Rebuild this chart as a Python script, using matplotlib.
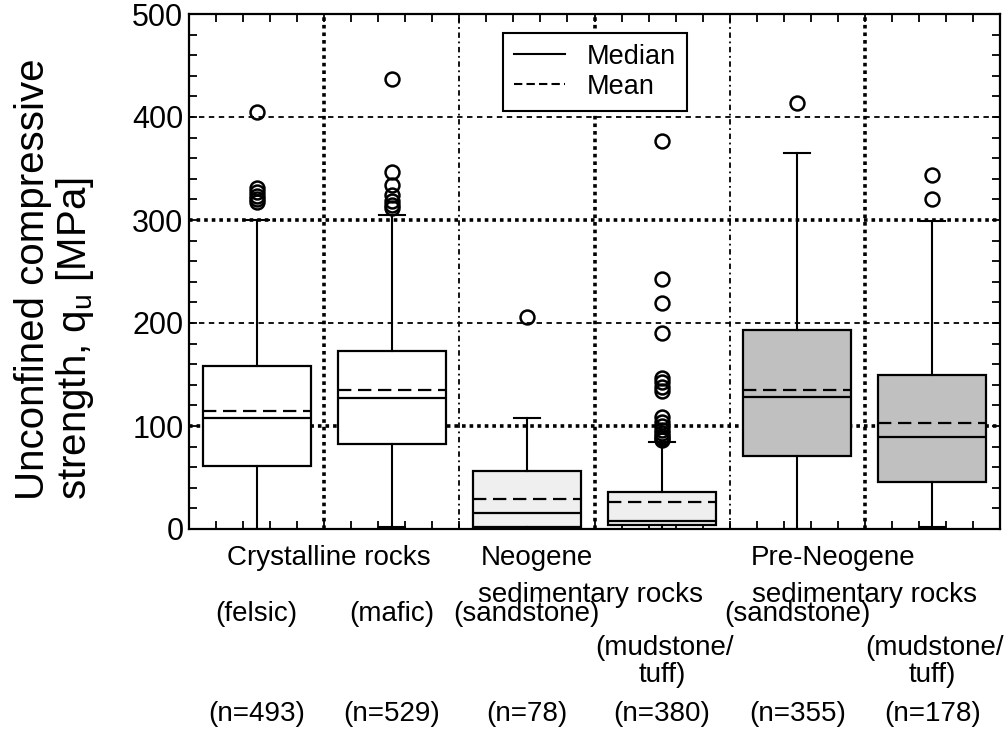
import matplotlib
matplotlib.use("Agg")
import matplotlib.pyplot as plt
from matplotlib.lines import Line2D
from matplotlib.ticker import MultipleLocator

plt.rcParams['font.family'] = ['Liberation Sans', 'DejaVu Sans']

# box statistics (MPa)
rock_types = ["felsic", "mafic", "Neo sandstone", "Neo mudstone/tuff",
              "Pre-Neo sandstone", "Pre-Neo mudstone/tuff"]
q1 = [61, 83, 2, 4, 71, 46]
q3 = [158, 173, 56, 36, 193, 150]
medians = [108, 127, 16, 8, 128, 89]
means = [115, 135, 29, 26, 135, 103]
whisk_lo = [0, 2, 0, 0, 0, 2]
whisk_hi = [300, 305, 108, 84, 365, 299]
outliers = [
    [317, 320, 323, 327, 331, 405],
    [312, 315, 318, 324, 334, 347, 437],
    [206],
    [86, 88, 90, 93, 96, 100, 104, 109, 134, 138, 143, 147, 190, 219, 243, 377],
    [414],
    [320, 344],
]
n_counts = [493, 529, 78, 380, 355, 178]
box_colors = ["white", "white", "#efefef", "#efefef", "#c0c0c0", "#c0c0c0"]

fig = plt.figure(figsize=(10.05, 7.3), dpi=100)
ax = fig.add_axes([189 / 1005, 201 / 730, 811 / 1005, 515 / 730])

positions = list(range(1, len(rock_types) + 1))
stats = []
for i in range(len(rock_types)):
    stats.append(dict(med=medians[i], q1=q1[i], q3=q3[i], mean=means[i],
                      whislo=whisk_lo[i], whishi=whisk_hi[i], fliers=outliers[i]))

# grid: heavy dotted / light dashed
for y in [100, 300]:
    ax.axhline(y, color='black', lw=2.6, ls=(0, (1, 1.1)), zorder=0.5)
for y in [200, 400]:
    ax.axhline(y, color='black', lw=1.3, ls=(0, (3, 2.5)), zorder=0.5)
for x in [1.5, 3.5, 5.5]:
    ax.axvline(x, color='black', lw=2.6, ls=(0, (1, 1.1)), zorder=0.5)
for x in [2.5, 4.5]:
    ax.axvline(x, color='black', lw=1.3, ls=(0, (3, 2, 1, 2)), zorder=0.5)

bp = ax.bxp(stats, positions=positions, widths=0.8, capwidths=0.19,
            showmeans=True, meanline=True, patch_artist=True,
            boxprops=dict(edgecolor='black', linewidth=1.6),
            medianprops=dict(color='black', linewidth=1.6),
            meanprops=dict(color='black', linewidth=1.6, linestyle=(0, (6, 3))),
            whiskerprops=dict(color='black', linewidth=1.5),
            capprops=dict(color='black', linewidth=1.5),
            flierprops=dict(marker='o', markersize=10, markerfacecolor='none',
                            markeredgecolor='black', markeredgewidth=1.8))
for patch, c in zip(bp['boxes'], box_colors):
    patch.set_facecolor(c)
    patch.set_zorder(2)

ax.set_xlim(0.5, 6.5)
ax.set_ylim(0, 500)
ax.yaxis.set_major_locator(MultipleLocator(100))
ax.yaxis.set_minor_locator(MultipleLocator(20))
ax.set_xticks([1.5, 2.5, 3.5, 4.5, 5.5])
ax.set_xticks([0.5 + 0.2 * k for k in range(1, 30)], minor=True)
ax.set_xticklabels([])
ax.tick_params(axis='both', which='both', direction='in', top=True, right=True,
               length=6, width=1.3, labelsize=22, pad=4)
for s in ax.spines.values():
    s.set_linewidth(1.6)

handles = [Line2D([], [], color='black', lw=1.5),
           Line2D([], [], color='black', lw=1.5, ls=(0, (4, 2)))]
leg = ax.legend(handles, ['Median', 'Mean'], loc='upper left',
                bbox_to_anchor=(0.387, 0.963), borderaxespad=0, fontsize=19.5,
                fancybox=False, framealpha=1, edgecolor='black',
                handlelength=1.9, handletextpad=0.8, labelspacing=0.15,
                borderpad=0.4)
leg.get_frame().set_linewidth(1.5)

# y label
fig.text(14 / 1005, 1 - 500 / 730,
         "Unconfined compressive\nstrength, q$_\\mathregular{u}$ [MPa]",
         rotation=90, ha='left', va='bottom', multialignment='left',
         fontsize=29, linespacing=1.05)

# category labels below the axis
def px(x, y, s, ha='center'):
    fig.text(x / 1005, 1 - y / 730, s, ha=ha, va='baseline', fontsize=20)

px(329, 565, "Crystalline rocks")
px(481, 565, "Neogene", ha='left')
px(591, 602, "sedimentary rocks")
px(751, 565, "Pre-Neogene", ha='left')
px(864, 602, "sedimentary rocks")

sub_labels = ["(felsic)", "(mafic)", "(sandstone)", "(mudstone/\ntuff)",
              "(sandstone)", "(mudstone/\ntuff)"]
for i, lab in enumerate(sub_labels):
    xpix = 189 + (positions[i] - 0.5) * 811 / 6
    if "\n" in lab:
        a, b = lab.split("\n")
        px(xpix + 2, 655, a)
        px(xpix, 682, b)
    else:
        px(xpix, 621, lab)
    px(xpix, 721, "(n=%d)" % n_counts[i])

fig.savefig("out.png", dpi=100)
